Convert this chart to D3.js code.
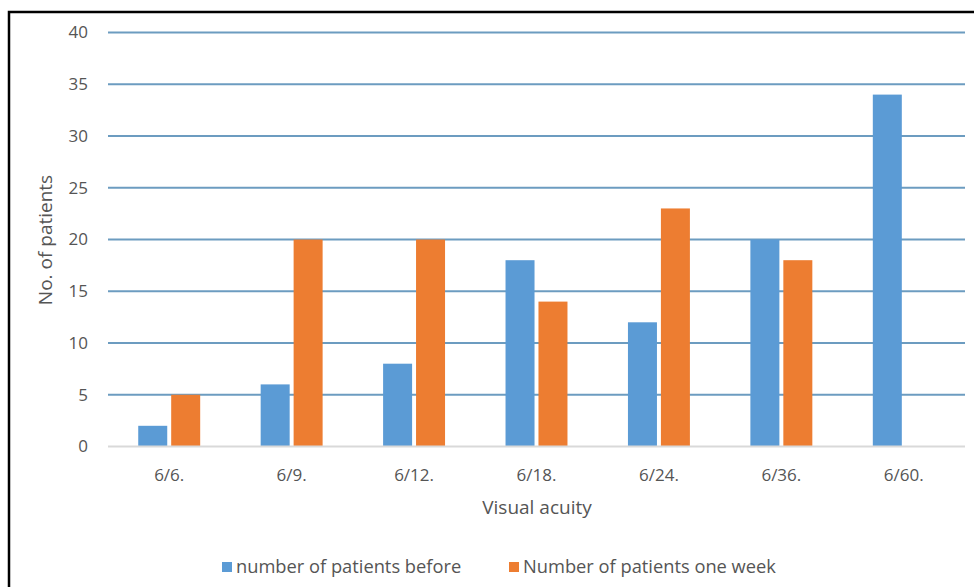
<!DOCTYPE html>
<html>
<head>
<meta charset="utf-8">
<script src="https://cdn.jsdelivr.net/npm/d3@7"></script>
<style>
  body { margin: 0; background: #fff; }
  svg { display: block; font-family: "Open Sans", Lato, sans-serif; }
</style>
</head>
<body>
<div id="box"></div>
<script>
const categories = ['6/6.', '6/9.', '6/12.', '6/18.', '6/24.', '6/36.', '6/60.'];
const before = [2, 6, 8, 18, 12, 20, 34];
const oneWeek = [5, 20, 20, 14, 23, 18, null];
const seriesNames = ['number of patients before', 'Number of patients one week'];
const yTicks = [0, 5, 10, 15, 20, 25, 30, 35, 40];
const colors = ['#5b9bd5', '#ed7d31'];

const width = 974, height = 587;
const padLeft = 108, padRight = 9, padTop = 32.5, padBottom = 140.5;

const svg = d3.select('#box').append('svg')
  .attr('width', width)
  .attr('height', height);

// frame (only top and left edges show in the picture)
svg.append('path')
  .attr('d', `M9,${height} V12 H${width}`)
  .attr('fill', 'none')
  .attr('stroke', '#000')
  .attr('stroke-width', 2.5);

const x = d3.scaleBand().domain(categories).range([padLeft, width - padRight]).padding(0);
const inner = d3.scaleBand().domain([0, 1])
  .range([x.bandwidth() * 0.247, x.bandwidth() * 0.753]).paddingInner(0.12);
const y = d3.scaleLinear().domain([0, 40]).range([height - padBottom, padTop]);

// gridlines
svg.append('g').selectAll('line').data(yTicks.filter(d => d > 0))
  .join('line')
  .attr('x1', padLeft).attr('x2', width - padRight)
  .attr('y1', d => y(d)).attr('y2', d => y(d))
  .attr('stroke', '#6c9cc0')
  .attr('stroke-width', 2);

// y tick labels
svg.append('g').selectAll('text').data(yTicks)
  .join('text')
  .attr('x', 88)
  .attr('y', d => y(d))
  .attr('dy', '0.35em')
  .attr('text-anchor', 'end')
  .attr('fill', '#555')
  .style('font-size', '17px')
  .text(d => d);

// bars
const rows = categories.map((c, i) => ({ c, vals: [before[i], oneWeek[i]] }));
const groups = svg.append('g').selectAll('g').data(rows)
  .join('g')
  .attr('transform', d => `translate(${x(d.c)},0)`);

groups.selectAll('rect')
  .data(d => d.vals.map((v, k) => ({ v, k })).filter(e => e.v != null))
  .join('rect')
  .attr('x', e => inner(e.k))
  .attr('width', inner.bandwidth())
  .attr('y', e => y(e.v))
  .attr('height', e => y(0) - y(e.v))
  .attr('fill', e => colors[e.k]);

// zero axis line
svg.append('line')
  .attr('x1', padLeft).attr('x2', width - padRight)
  .attr('y1', y(0)).attr('y2', y(0))
  .attr('stroke', '#d9d9d9')
  .attr('stroke-width', 2);

// category labels
svg.append('g').selectAll('text').data(categories)
  .join('text')
  .attr('x', d => x(d) + x.bandwidth() / 2)
  .attr('y', 481)
  .attr('text-anchor', 'middle')
  .attr('fill', '#555')
  .style('font-size', '17px')
  .text(d => d);

// axis titles
svg.append('text')
  .attr('x', 537).attr('y', 514)
  .attr('text-anchor', 'middle')
  .attr('fill', '#555')
  .style('font-size', '19px')
  .text('Visual acuity');

svg.append('text')
  .attr('transform', 'translate(52,240) rotate(-90)')
  .attr('text-anchor', 'middle')
  .attr('fill', '#555')
  .style('font-size', '19px')
  .text('No. of patients');

// legend
const legendX = [222, 509];
const legend = svg.append('g').selectAll('g').data(seriesNames)
  .join('g')
  .attr('transform', (d, i) => `translate(${legendX[i]},567)`);
legend.append('rect')
  .attr('x', 0).attr('y', -5)
  .attr('width', 10).attr('height', 10)
  .attr('fill', (d, i) => colors[i]);
legend.append('text')
  .attr('x', 14)
  .attr('dy', '0.35em')
  .attr('fill', '#555')
  .style('font-size', '18.3px')
  .text(d => d);
</script>
</body>
</html>
